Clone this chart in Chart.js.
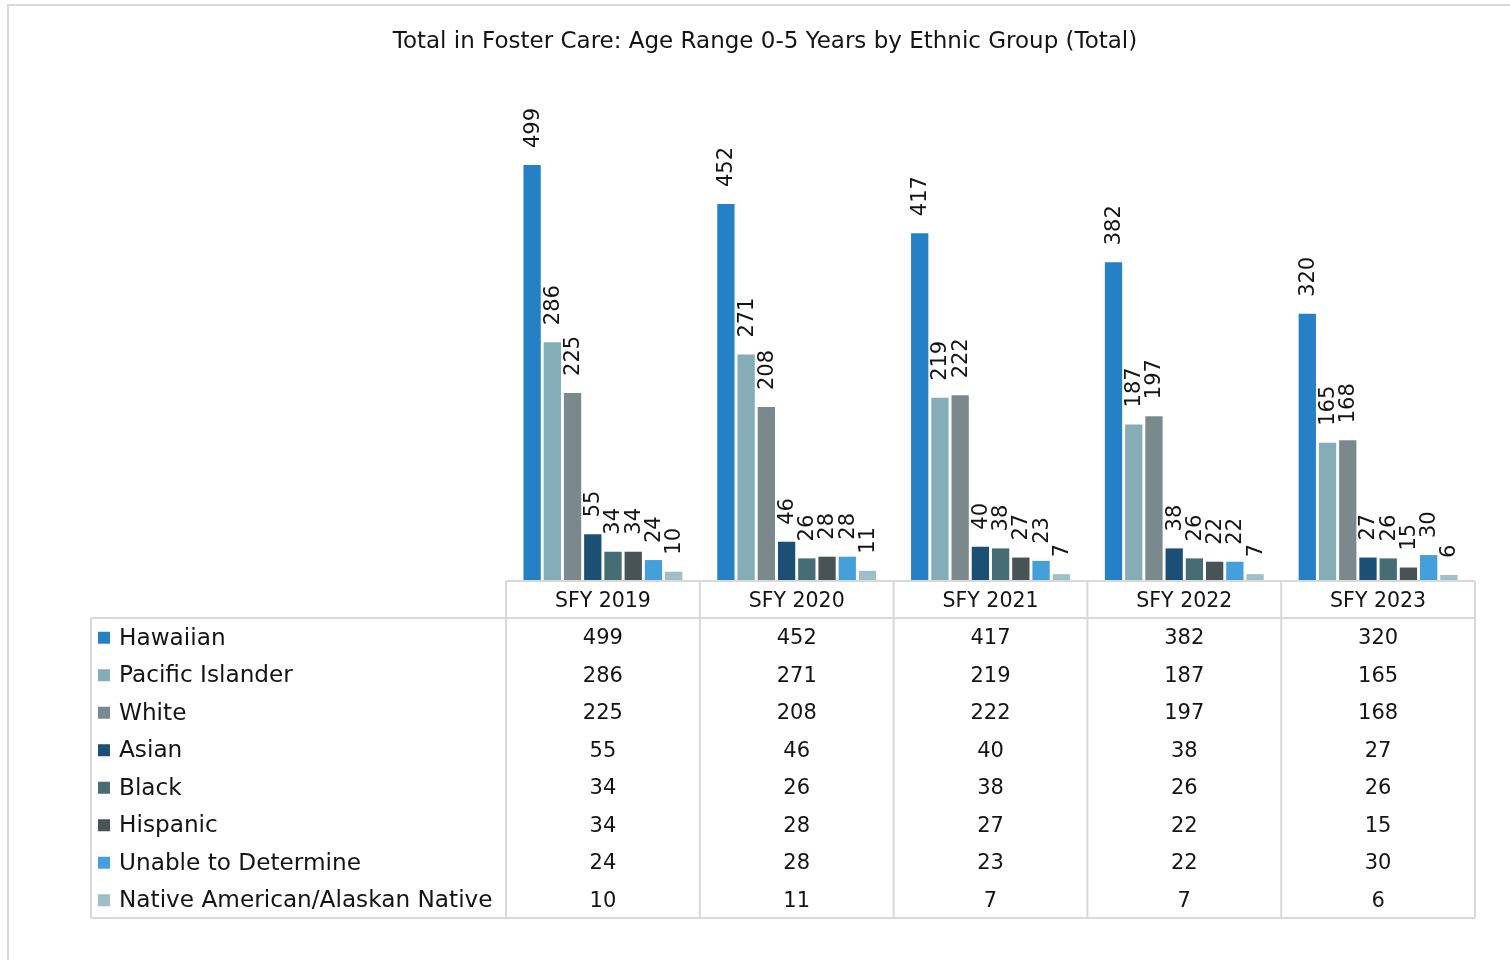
<!DOCTYPE html>
<html>
<head>
<meta charset="utf-8">
<script src="https://cdn.jsdelivr.net/npm/chart.js@4/dist/chart.umd.min.js"></script>
<style>
html,body{margin:0;padding:0;background:#fff;overflow:hidden;}
#wrap{position:absolute;left:0;top:0;width:1510px;height:960px;}
</style>
</head>
<body>
<div id="wrap"><canvas id="c" width="1510" height="960"></canvas></div>
<script>
const categories = ['SFY 2019','SFY 2020','SFY 2021','SFY 2022','SFY 2023'];
const seriesNames = ['Hawaiian','Pacific Islander','White','Asian','Black','Hispanic','Unable to Determine','Native American/Alaskan Native'];
const hawaiian = [499,452,417,382,320];
const pacificIslander = [286,271,219,187,165];
const white = [225,208,222,197,168];
const asian = [55,46,40,38,27];
const black = [34,26,38,26,26];
const hispanic = [34,28,27,22,15];
const unableToDetermine = [24,28,23,22,30];
const nativeAmerican = [10,11,7,7,6];
const seriesValues = [hawaiian,pacificIslander,white,asian,black,hispanic,unableToDetermine,nativeAmerican];
const seriesColors = ['#2680C6','#85ADB7','#7A8A8C','#1B4F73','#456D73','#475354','#459FDB','#A0BEC8'];
const titleText = 'Total in Foster Care: Age Range 0-5 Years by Ethnic Group (Total)';

const FONT = '"DejaVu Sans", sans-serif';
const TEXT = '#141414';
const GRID = '#d9d9d9';

const decorPlugin = {
  id: 'decor',
  beforeDraw(chart) {
    const ctx = chart.ctx;
    ctx.save();
    ctx.fillStyle = '#fff';
    ctx.fillRect(0, 0, chart.width, chart.height);
    ctx.strokeStyle = GRID;
    ctx.lineWidth = 2;
    ctx.strokeRect(8, 5, 1700, 1700);
    ctx.restore();
  },
  afterDatasetsDraw(chart) {
    const ctx = chart.ctx;
    ctx.save();
    ctx.font = '21px ' + FONT;
    ctx.fillStyle = TEXT;
    ctx.textAlign = 'left';
    ctx.textBaseline = 'middle';
    chart.data.datasets.forEach((ds, di) => {
      const meta = chart.getDatasetMeta(di);
      meta.data.forEach((el, i) => {
        ctx.save();
        ctx.translate(el.x + 1, el.y - 17);
        ctx.rotate(-Math.PI / 2);
        ctx.fillText(String(ds.data[i]), 0, 0);
        ctx.restore();
      });
    });
    ctx.restore();
  },
  afterDraw(chart) {
    const ctx = chart.ctx;
    const area = chart.chartArea;
    const xs = chart.scales.x;
    const n = categories.length;
    const centers = categories.map((_, i) => xs.getPixelForValue(i));
    const bounds = [area.left];
    for (let i = 0; i < n - 1; i++) bounds.push((centers[i] + centers[i + 1]) / 2);
    bounds.push(area.right);
    const top = area.bottom + 1;
    const headerBottom = top + 37;
    const rowH = 37.5;
    const bottom = headerBottom + rowH * seriesNames.length;
    const tableLeft = 91;

    ctx.save();
    ctx.strokeStyle = GRID;
    ctx.lineWidth = 2;
    ctx.beginPath();
    ctx.moveTo(area.left, top); ctx.lineTo(area.right, top);
    ctx.moveTo(tableLeft, headerBottom); ctx.lineTo(area.right, headerBottom);
    ctx.moveTo(tableLeft, bottom); ctx.lineTo(area.right, bottom);
    ctx.moveTo(tableLeft, headerBottom); ctx.lineTo(tableLeft, bottom);
    bounds.forEach(b => { ctx.moveTo(b, top); ctx.lineTo(b, bottom); });
    ctx.stroke();

    ctx.fillStyle = TEXT;
    ctx.textBaseline = 'middle';
    ctx.textAlign = 'center';
    ctx.font = '20.5px ' + FONT;
    categories.forEach((c, i) => ctx.fillText(c, centers[i], (top + headerBottom) / 2 + 2.5));

    seriesNames.forEach((name, r) => {
      const cy = headerBottom + rowH * (r + 0.5) + 2;
      ctx.fillStyle = seriesColors[r];
      ctx.fillRect(98, cy - 7, 12, 12);
      ctx.fillStyle = TEXT;
      ctx.textAlign = 'left';
      ctx.font = '23.2px ' + FONT;
      ctx.fillText(name, 119, cy);
      ctx.textAlign = 'center';
      ctx.font = '21px ' + FONT;
      seriesValues[r].forEach((v, i) => ctx.fillText(String(v), centers[i], cy));
    });
    ctx.restore();
  }
};

new Chart(document.getElementById('c'), {
  type: 'bar',
  data: {
    labels: categories,
    datasets: seriesNames.map((name, i) => ({
      label: name,
      data: seriesValues[i],
      backgroundColor: seriesColors[i],
      borderWidth: 0,
      categoryPercentage: 0.835,
      barPercentage: 0.855,
      yAxisID: 'y'
    }))
  },
  options: {
    responsive: false,
    animation: false,
    devicePixelRatio: 1,
    layout: { padding: { left: 20, right: 0, top: 0, bottom: 380 } },
    plugins: {
      legend: { display: false },
      tooltip: { enabled: false },
      title: {
        display: true,
        text: titleText,
        color: TEXT,
        font: { family: FONT, size: 23, weight: 'normal', lineHeight: 1.2 },
        padding: { top: 28.2, bottom: 25.2 }
      }
    },
    scales: {
      x: { display: false },
      y: {
        display: true,
        position: 'left',
        min: 0, max: 600,
        grid: { display: false },
        border: { display: false },
        ticks: { display: false },
        afterFit(s) { s.width = 486; }
      },
      yR: {
        display: true,
        position: 'right',
        min: 0, max: 600,
        grid: { display: false },
        border: { display: false },
        ticks: { display: false },
        afterFit(s) { s.width = 35; }
      }
    }
  },
  plugins: [decorPlugin]
});
</script>
</body>
</html>
